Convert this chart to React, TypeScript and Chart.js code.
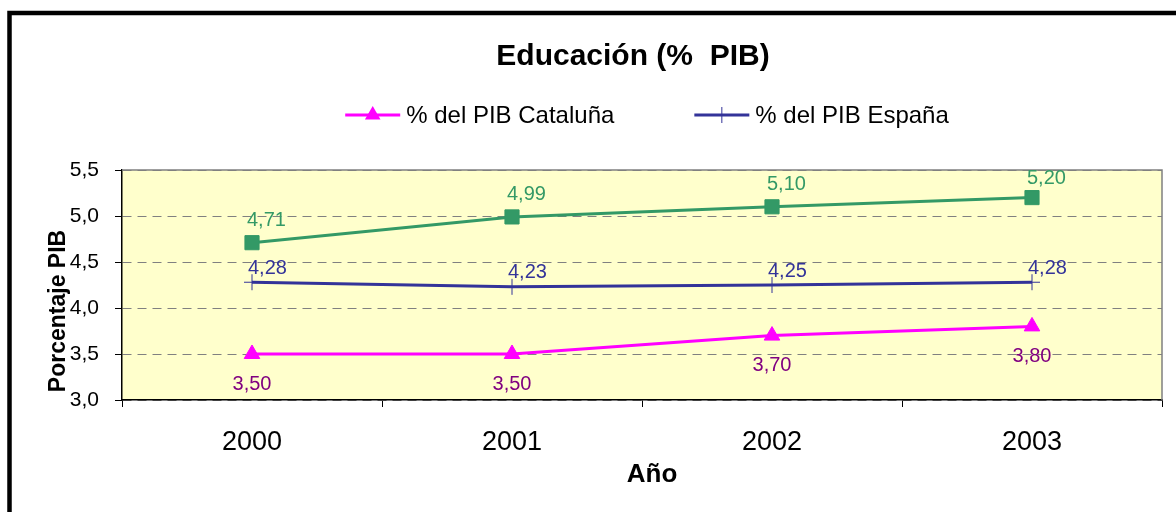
import React, { useEffect, useRef } from "react";
import { Chart, registerables } from "chart.js";

Chart.register(...registerables);

const TITLE = "Educación (%  PIB)";
const X_TITLE = "Año";
const Y_TITLE = "Porcentaje PIB";
const categories = ["2000", "2001", "2002", "2003"];
const seriesVerde = [4.71, 4.99, 5.1, 5.2];
const seriesEspana = [4.28, 4.23, 4.25, 4.28];
const seriesCataluna = [3.5, 3.5, 3.7, 3.8];
const labelEspana = "% del PIB España";
const labelCataluna = "% del PIB Cataluña";
const labelVerde = "Serie 3";
const Y_MIN = 3.0;
const Y_MAX = 5.5;
const Y_STEP = 0.5;

const FONT = "'Liberation Sans', Arial, sans-serif";
const GREEN = "#339966";
const BLUE = "#333399";
const MAGENTA = "#FF00FF";
const PURPLE = "#800080";

const fmt = (v: number, d: number) => v.toFixed(d).replace(".", ",");

const framePlugin = {
  id: "framePlugin",
  beforeDraw(chart: any) {
    const { ctx, chartArea: a } = chart;
    ctx.save();
    ctx.fillStyle = "#FFFFFF";
    ctx.fillRect(0, 0, chart.width, chart.height);
    ctx.fillStyle = "#FFFFCC";
    ctx.fillRect(a.left, a.top, a.right - a.left, a.bottom - a.top);
    ctx.restore();
  },
  beforeDatasetsDraw(chart: any) {
    const { ctx, chartArea: a } = chart;
    ctx.save();
    ctx.strokeStyle = "#808080";
    ctx.lineWidth = 1.5;
    ctx.beginPath();
    ctx.moveTo(a.left, a.top);
    ctx.lineTo(a.right, a.top);
    ctx.lineTo(a.right, a.bottom);
    ctx.stroke();
    ctx.restore();
  },
  afterDraw(chart: any) {
    const { ctx, chartArea: a } = chart;
    ctx.save();
    // outer frame
    ctx.strokeStyle = "#000000";
    ctx.lineWidth = 4.5;
    ctx.strokeRect(9.5, 13, chart.width + 100, chart.height + 100);

    // title
    ctx.fillStyle = "#000000";
    ctx.font = `bold 30px ${FONT}`;
    ctx.textAlign = "center";
    ctx.textBaseline = "alphabetic";
    ctx.fillText(TITLE, 633, 65);

    // x axis title
    ctx.font = `bold 26px ${FONT}`;
    ctx.fillText(X_TITLE, (a.left + a.right) / 2 + 10, 482);

    // y axis title
    ctx.save();
    ctx.font = `bold 23px ${FONT}`;
    ctx.translate(65, (a.top + a.bottom) / 2 + 26);
    ctx.rotate(-Math.PI / 2);
    ctx.fillText(Y_TITLE, 0, 0);
    ctx.restore();

    // legend
    const ds = chart.data.datasets;
    const items = [ds[2], ds[1]];
    ctx.font = `24px ${FONT}`;
    ctx.textAlign = "left";
    const lineW = 55;
    const gapText = 6;
    const gapItem = 80;
    const widths = items.map((d: any) => lineW + gapText + ctx.measureText(d.label).width);
    const total = widths.reduce((s: number, w: number) => s + w, 0) + gapItem * (items.length - 1);
    let x = a.left + (a.right - a.left) / 2 + 5 - total / 2;
    const y = 115;
    items.forEach((d: any, i: number) => {
      ctx.strokeStyle = d.borderColor;
      ctx.lineWidth = 3;
      ctx.beginPath();
      ctx.moveTo(x, y);
      ctx.lineTo(x + lineW, y);
      ctx.stroke();
      const cx = x + lineW / 2;
      if (d.pointStyle === "triangle") {
        const r = 9;
        ctx.fillStyle = d.borderColor;
        ctx.beginPath();
        ctx.moveTo(cx, y - r);
        ctx.lineTo(cx + r * 0.866, y + r * 0.5);
        ctx.lineTo(cx - r * 0.866, y + r * 0.5);
        ctx.closePath();
        ctx.fill();
      } else if (d.pointStyle === "cross") {
        ctx.lineWidth = 1;
        ctx.beginPath();
        ctx.moveTo(cx, y - 8);
        ctx.lineTo(cx, y + 8);
        ctx.stroke();
      }
      ctx.fillStyle = "#000000";
      ctx.fillText(d.label, x + lineW + gapText, 123);
      x += widths[i] + gapItem;
    });
    ctx.restore();
  },
};

const labelPlugin = {
  id: "labelPlugin",
  afterDatasetsDraw(chart: any) {
    const { ctx, chartArea: a } = chart;
    ctx.save();
    ctx.font = `20px ${FONT}`;
    ctx.textBaseline = "middle";
    chart.data.datasets.forEach((d: any, di: number) => {
      const meta = chart.getDatasetMeta(di);
      meta.data.forEach((pt: any, i: number) => {
        const text = fmt(d.data[i], 2);
        const pos = d.labelPos;
        ctx.fillStyle = d.labelColor;
        if (pos === "above") {
          ctx.textAlign = "left";
          const ty = Math.max(pt.y - 22, a.top + 8);
          ctx.fillText(text, pt.x - 5, ty);
        } else if (pos === "below") {
          ctx.textAlign = "center";
          ctx.fillText(text, pt.x, pt.y + 30);
        } else {
          ctx.textAlign = "left";
          ctx.fillText(text, pt.x - 4, pt.y - 14);
        }
      });
    });
    ctx.restore();
  },
};

export default function App() {
  const ref = useRef<HTMLCanvasElement | null>(null);

  useEffect(() => {
    if (!ref.current) return;
    const chart = new Chart(ref.current, {
      type: "line",
      data: {
        labels: categories,
        datasets: [
          {
            label: labelVerde,
            data: seriesVerde,
            borderColor: GREEN,
            backgroundColor: GREEN,
            borderWidth: 3,
            pointStyle: "rect",
            pointRadius: 10,
            pointBorderWidth: 1,
            tension: 0,
            labelPos: "above",
            labelColor: GREEN,
          } as any,
          {
            label: labelEspana,
            data: seriesEspana,
            borderColor: BLUE,
            backgroundColor: BLUE,
            borderWidth: 3,
            pointStyle: "cross",
            pointRadius: 8,
            pointBorderWidth: 1,
            tension: 0,
            labelPos: "right",
            labelColor: BLUE,
          } as any,
          {
            label: labelCataluna,
            data: seriesCataluna,
            borderColor: MAGENTA,
            backgroundColor: MAGENTA,
            borderWidth: 3,
            pointStyle: "triangle",
            pointRadius: 9,
            pointBorderWidth: 1,
            tension: 0,
            labelPos: "below",
            labelColor: PURPLE,
          } as any,
        ],
      },
      options: {
        responsive: false,
        animation: false,
        layout: { padding: { left: 0, right: 14, top: 170, bottom: 32 } },
        plugins: {
          legend: { display: false },
          title: { display: false },
          tooltip: { enabled: false },
        },
        scales: {
          x: {
            type: "category",
            offset: true,
            grid: {
              offset: true,
              drawOnChartArea: false,
              drawTicks: true,
              tickLength: 7,
              tickColor: "#000000",
              lineWidth: 1,
            },
            border: { display: true, color: "#000000", width: 1.5 },
            ticks: {
              color: "#000000",
              font: { family: FONT, size: 27 },
              padding: 19,
              maxRotation: 0,
            },
            afterFit: (s: any) => {
              s.height = 80;
            },
          },
          y: {
            min: Y_MIN,
            max: Y_MAX,
            grid: {
              color: "#808080",
              lineWidth: 1,
              drawTicks: true,
              tickLength: 7,
              tickColor: "#000000",
              tickBorderDash: [],
            },
            border: { display: true, color: "#000000", width: 1.5, dash: [9, 6] },
            ticks: {
              stepSize: Y_STEP,
              color: "#000000",
              font: { family: FONT, size: 21 },
              padding: 16,
              callback: (v: any) => fmt(Number(v), 1),
            },
            afterFit: (s: any) => {
              s.width = 122;
            },
          },
        },
      },
      plugins: [framePlugin, labelPlugin],
    });
    return () => chart.destroy();
  }, []);

  return (
    <div style={{ position: "fixed", left: 0, top: 0, width: 1176, height: 512 }}>
      <canvas ref={ref} width={1176} height={512} style={{ display: "block" }} />
    </div>
  );
}
